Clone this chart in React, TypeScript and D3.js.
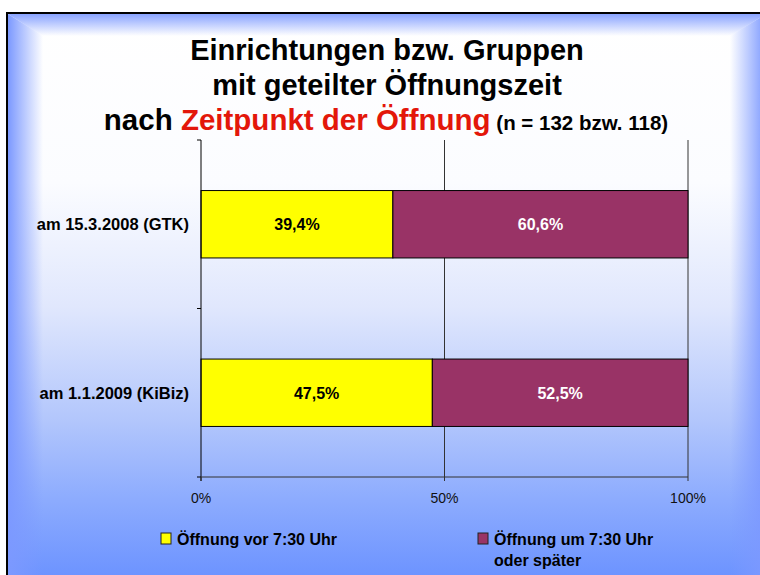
import React from "react";
import * as d3 from "d3";

const categories = ["am 15.3.2008 (GTK)", "am 1.1.2009 (KiBiz)"];
const earlyOpening = [39.4, 47.5];
const lateOpening = [60.6, 52.5];
const seriesNames = ["Öffnung vor 7:30 Uhr", "Öffnung um 7:30 Uhr oder später"];
const seriesColors = ["#ffff00", "#993366"];
const xTicks = [0, 50, 100];

const FONT = "'Liberation Sans', Arial, sans-serif";

const App = () => {
  const width = 760;
  const height = 575;

  const x = d3.scaleLinear().domain([0, 100]).range([201, 688]);
  const y = d3
    .scaleBand()
    .domain(categories)
    .range([140, 477])
    .paddingInner(0.6)
    .paddingOuter(0.3);

  const step = y.step();
  const bw = y.bandwidth();
  const fmt = (v: number) => d3.format(".1f")(v).replace(".", ",") + "%";

  // stacked rows
  const rows = categories.map((c, i) => ({
    cat: c,
    segs: [
      { x0: 0, x1: earlyOpening[i], v: earlyOpening[i], color: seriesColors[0], text: "#000" },
      { x0: earlyOpening[i], x1: earlyOpening[i] + lateOpening[i], v: lateOpening[i], color: seriesColors[1], text: "#fff" },
    ],
  }));

  const yBounds = d3.range(categories.length + 1).map((i) => 140 + i * step);
  const [y0, y1] = [140, 477];

  return (
    <div style={{ position: "absolute", left: 0, top: 0 }}>
      <svg width={width} height={height} style={{ display: "block" }}>
        <defs>
          <linearGradient id="bgV" gradientUnits="userSpaceOnUse" x1="0" y1="13" x2="0" y2="580">
            <stop offset="0" stopColor="#ffffff" />
            <stop offset="0.3" stopColor="#fbfcff" />
            <stop offset="0.52" stopColor="#e0e7fd" />
            <stop offset="0.72" stopColor="#b2c6fc" />
            <stop offset="0.86" stopColor="#8cabfe" />
            <stop offset="1" stopColor="#6b92ff" />
          </linearGradient>
          <linearGradient id="edgeL" x1="0" y1="0" x2="1" y2="0">
            <stop offset="0" stopColor="#7c99ff" stopOpacity="1" />
            <stop offset="1" stopColor="#7c99ff" stopOpacity="0" />
          </linearGradient>
          <linearGradient id="edgeR" x1="1" y1="0" x2="0" y2="0">
            <stop offset="0" stopColor="#7c99ff" stopOpacity="1" />
            <stop offset="1" stopColor="#7c99ff" stopOpacity="0" />
          </linearGradient>
          <linearGradient id="edgeT" x1="0" y1="0" x2="0" y2="1">
            <stop offset="0" stopColor="#7c99ff" stopOpacity="0.9" />
            <stop offset="1" stopColor="#7c99ff" stopOpacity="0" />
          </linearGradient>
        </defs>

        {/* background frame */}
        <rect x={7} y={13} width={760} height={575} fill="url(#bgV)" />
        <polygon points="8,14 8,580 43,580 43,36" fill="url(#edgeL)" />
        <polygon points="766,14 766,580 730,580 730,36" fill="url(#edgeR)" />
        <polygon points="8,14 766,14 730,36 43,36" fill="url(#edgeT)" />
        <rect x={7} y={13} width={760} height={575} fill="none" stroke="#000" strokeWidth={2} />

        {/* title */}
        <g fontFamily={FONT} fontWeight="bold" textAnchor="middle">
          <text x={387} y={60} fontSize={29} fill="#000">Einrichtungen bzw. Gruppen</text>
          <text x={387} y={95} fontSize={29} fill="#000">mit geteilter Öffnungszeit</text>
          <text x={386} y={130} fontSize={29.5} fill="#000">
            <tspan>nach </tspan>
            <tspan fill="#e3170a">Zeitpunkt der Öffnung</tspan>
            <tspan fontSize={20.5}> (n = 132 bzw. 118)</tspan>
          </text>
        </g>

        {/* gridlines */}
        {xTicks.slice(1).map((t) => (
          <line key={t} x1={x(t)} x2={x(t)} y1={y0} y2={y1} stroke="#333" strokeWidth={1} />
        ))}

        {/* bars */}
        {rows.map((r) => (
          <g key={r.cat}>
            {r.segs.map((s, j) => (
              <g key={j}>
                <rect
                  x={x(s.x0)}
                  y={y(r.cat)}
                  width={x(s.x1) - x(s.x0)}
                  height={bw}
                  fill={s.color}
                  stroke="#000"
                  strokeWidth={1}
                />
                <text
                  x={(x(s.x0) + x(s.x1)) / 2}
                  y={(y(r.cat) as number) + bw / 2 + 6}
                  textAnchor="middle"
                  fontFamily={FONT}
                  fontWeight="bold"
                  fontSize={16}
                  fill={s.text}
                >
                  {fmt(s.v)}
                </text>
              </g>
            ))}
            <text
              x={189}
              y={(y(r.cat) as number) + bw / 2 + 6}
              textAnchor="end"
              fontFamily={FONT}
              fontWeight="bold"
              fontSize={16.5}
              fill="#000"
            >
              {r.cat}
            </text>
          </g>
        ))}

        {/* axes */}
        <line x1={x(0)} x2={x(0)} y1={y0} y2={y1 + 4} stroke="#000" strokeWidth={1} />
        {yBounds.map((b, i) => (
          <line key={i} x1={x(0) - 4} x2={x(0)} y1={b} y2={b} stroke="#000" strokeWidth={1} />
        ))}
        <line x1={x(0)} x2={x(100)} y1={y1} y2={y1} stroke="#333" strokeWidth={1} />
        {xTicks.map((t) => (
          <g key={t}>
            <line x1={x(t)} x2={x(t)} y1={y1} y2={y1 + 4} stroke="#333" strokeWidth={1} />
            <text x={x(t)} y={503} textAnchor="middle" fontFamily={FONT} fontSize={14} fill="#111">
              {t + "%"}
            </text>
          </g>
        ))}

        {/* legend */}
        <g fontFamily={FONT} fontWeight="bold" fontSize={16} fill="#000">
          <rect x={161} y={533} width={10} height={11} fill={seriesColors[0]} stroke="#222" strokeWidth={1} />
          <text x={177} y={545}>{seriesNames[0]}</text>
          <rect x={478} y={533} width={10} height={11} fill={seriesColors[1]} stroke="#222" strokeWidth={1} />
          <text x={494} y={545}>Öffnung um 7:30 Uhr</text>
          <text x={494} y={566}>oder später</text>
        </g>
      </svg>
    </div>
  );
};

export default App;
